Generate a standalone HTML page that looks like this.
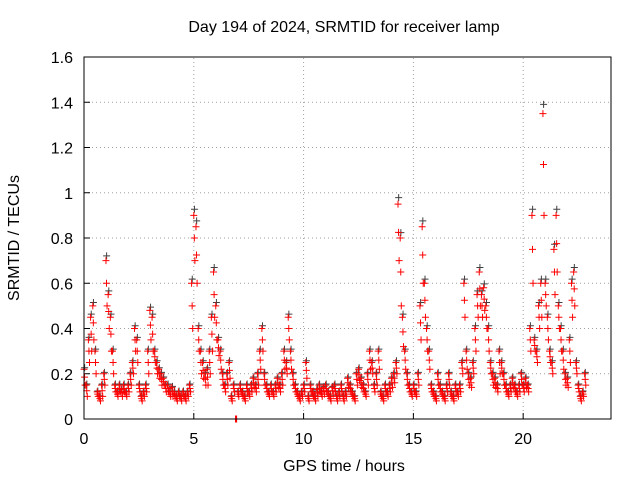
<!DOCTYPE html>
<html><head><meta charset="utf-8"><style>
body{margin:0;background:#fff;}
svg text{font-family:"Liberation Sans",sans-serif;font-size:16px;fill:#000;}
</style></head><body>
<svg id="chart" width="640" height="480" xmlns="http://www.w3.org/2000/svg">
<rect width="640" height="480" fill="#fff"/>
<text x="344" y="32" text-anchor="middle">Day 194 of 2024, SRMTID for receiver lamp</text>
<text x="344" y="471" text-anchor="middle">GPS time / hours</text>
<text transform="translate(19,238) rotate(-90)" text-anchor="middle">SRMTID / TECUs</text>
<g id="grid"></g><g id="ticks"></g><g id="marks"></g>
<rect x="84" y="57" width="527" height="362" fill="none" stroke="#000" stroke-width="1"/>
</svg>
<script>
const xTicks=[0,5,10,15,20];
const yTicks=[0,0.2,0.4,0.6,0.8,1,1.2,1.4,1.6];
const yTickLabels=["0","0.2","0.4","0.6","0.8","1","1.2","1.4","1.6"];
const startHour=0, stepHour=0.1;
const values=[0.22,0.15,0.35,0.45,0.5,0.3,0.12,0.1,0.15,0.2,
0.7,0.55,0.45,0.3,0.15,0.12,0.15,0.13,0.15,0.12,
0.15,0.2,0.25,0.4,0.35,0.15,0.1,0.12,0.15,0.3,
0.48,0.45,0.3,0.25,0.22,0.2,0.18,0.15,0.15,0.12,
0.14,0.12,0.1,0.12,0.1,0.12,0.1,0.12,0.15,0.6,
0.9,0.85,0.4,0.3,0.25,0.2,0.22,0.3,0.45,0.65,
0.5,0.35,0.3,0.2,0.15,0.2,0.25,0.1,0.15,0.0,
0.12,0.15,0.12,0.1,0.15,0.12,0.15,0.18,0.15,0.2,
0.3,0.4,0.2,0.15,0.12,0.15,0.12,0.15,0.18,0.15,
0.2,0.3,0.25,0.45,0.3,0.2,0.15,0.12,0.1,0.12,
0.15,0.25,0.1,0.15,0.12,0.1,0.13,0.15,0.12,0.14,
0.15,0.12,0.1,0.14,0.15,0.1,0.12,0.15,0.1,0.12,
0.18,0.15,0.12,0.1,0.2,0.22,0.18,0.15,0.12,0.2,
0.3,0.25,0.15,0.2,0.3,0.12,0.1,0.15,0.12,0.15,
0.18,0.2,0.25,0.95,0.8,0.45,0.3,0.2,0.15,0.12,
0.15,0.12,0.2,0.5,0.85,0.6,0.4,0.3,0.15,0.12,
0.1,0.2,0.15,0.12,0.1,0.15,0.2,0.12,0.1,0.15,
0.12,0.15,0.25,0.6,0.3,0.2,0.18,0.25,0.4,0.55,
0.65,0.55,0.58,0.5,0.4,0.25,0.2,0.18,0.15,0.3,
0.25,0.2,0.15,0.12,0.15,0.18,0.15,0.12,0.15,0.2,
0.15,0.18,0.15,0.4,0.9,0.35,0.3,0.5,0.6,1.35,
0.6,0.45,0.3,0.25,0.75,0.9,0.5,0.4,0.3,0.2,
0.18,0.35,0.6,0.65,0.25,0.15,0.1,0.12,0.2];
const lowValues=[0.15,0.1,0.25,0.3,0.35,0.2,0.1,0.08,0.1,0.15,
0.5,0.4,0.3,0.2,0.12,0.1,0.12,0.1,0.12,0.1,
0.12,0.15,0.2,0.3,0.25,0.12,0.08,0.1,0.12,0.2,
0.35,0.3,0.25,0.2,0.18,0.15,0.15,0.12,0.12,0.1,
0.1,0.1,0.08,0.1,0.08,0.1,0.08,0.1,0.12,0.4,
0.7,0.6,0.3,0.2,0.18,0.15,0.15,0.2,0.3,0.45,
0.35,0.28,0.22,0.15,0.12,0.15,0.18,0.08,0.12,0.0,
0.1,0.12,0.1,0.08,0.12,0.1,0.12,0.14,0.12,0.15,
0.22,0.3,0.15,0.12,0.1,0.12,0.1,0.12,0.14,0.12,
0.15,0.22,0.2,0.35,0.22,0.15,0.12,0.1,0.08,0.1,
0.12,0.18,0.08,0.12,0.1,0.08,0.1,0.12,0.1,0.11,
0.12,0.1,0.08,0.11,0.12,0.08,0.1,0.12,0.08,0.1,
0.14,0.12,0.1,0.08,0.15,0.17,0.14,0.12,0.1,0.15,
0.22,0.2,0.12,0.15,0.22,0.1,0.08,0.12,0.1,0.12,
0.14,0.16,0.2,0.7,0.5,0.32,0.22,0.15,0.12,0.1,
0.12,0.1,0.15,0.35,0.6,0.45,0.3,0.22,0.12,0.1,
0.08,0.15,0.12,0.1,0.08,0.12,0.15,0.1,0.08,0.12,
0.1,0.12,0.2,0.45,0.22,0.15,0.14,0.2,0.3,0.45,
0.5,0.45,0.48,0.4,0.3,0.2,0.15,0.14,0.12,0.2,
0.2,0.15,0.12,0.1,0.12,0.14,0.12,0.1,0.12,0.15,
0.12,0.14,0.12,0.3,0.6,0.3,0.25,0.4,0.45,0.9,
0.5,0.35,0.25,0.2,0.55,0.65,0.4,0.3,0.22,0.15,
0.14,0.25,0.45,0.5,0.2,0.12,0.08,0.1,0.15];
const X0=84,X1=611,Y0=419,Y1=57,XMAX=24,YMAX=1.6;
const xs=v=>X0+(X1-X0)*v/XMAX;
const ys=v=>Y0-(Y0-Y1)*v/YMAX;
const NS="http://www.w3.org/2000/svg";
function mk(tag,attrs,parent){const e=document.createElementNS(NS,tag);for(const k in attrs)e.setAttribute(k,attrs[k]);parent.appendChild(e);return e;}
const grid=document.getElementById('grid'),ticks=document.getElementById('ticks'),marks=document.getElementById('marks');
xTicks.forEach(t=>{const x=xs(t);
 if(t>0){const g=mk('line',{x1:x,x2:x,y1:Y0,y2:Y1,stroke:'#a0a0a0','stroke-dasharray':'1,3'},grid);
 
 }
 const tl=mk('line',{x1:x,x2:x,y1:Y0,y2:Y0-6,stroke:'#000'},ticks);
 
 
 const tx=mk('text',{x:x,y:444,'text-anchor':'middle'},ticks);tx.textContent=t;
 
 
});
yTicks.forEach((t,i)=>{const y=ys(t);
 if(t>0&&t<YMAX){const g=mk('line',{x1:X0,x2:X1,y1:y,y2:y,stroke:'#a0a0a0','stroke-dasharray':'1,3'},grid);
 
 }
 const tl=mk('line',{x1:X0,x2:X0+6,y1:y,y2:y,stroke:'#000'},ticks);
 
 
 const tx=mk('text',{x:73,y:y+6,'text-anchor':'end'},ticks);tx.textContent=yTickLabels[i];
 
 
});
function plus(v,t,color){const x=xs(t),y=ys(v);
 const p=mk('path',{d:`M${x-3.5},${y}h7M${x},${y-3.5}v7`,stroke:color,'stroke-width':1,fill:'none'},marks);
 
 }
values.forEach((v,i)=>{const t=startHour+i*stepHour;plus(v*1.03,t+0.03,'#404040');});
values.forEach((v,i)=>{const t=startHour+i*stepHour;const lo=lowValues[i];
 plus(v,t,'#ff0000');plus(lo,t+0.05,'#ff0000');plus((v+lo)/2,t+0.025,'#ff0000');});
</script>
</body></html>
